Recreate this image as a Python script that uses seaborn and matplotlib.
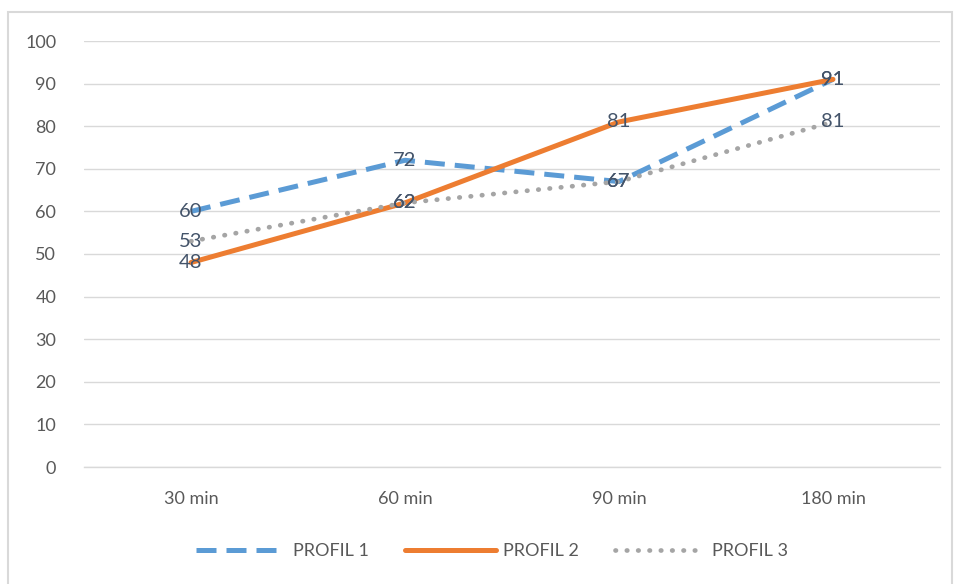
import pandas as pd
import numpy as np
import matplotlib
matplotlib.use("Agg")
import matplotlib.pyplot as plt
import seaborn as sns
from matplotlib.patches import Rectangle

categories = ["30 min", "60 min", "90 min", "180 min"]
profil_1 = [60, 72, 67, 91]
profil_2 = [48, 62, 81, 91]
profil_3 = [53, 62, 67, 81]
series_names = ["PROFIL 1", "PROFIL 2", "PROFIL 3"]

df = pd.DataFrame({
    "cat": list(range(len(categories))) * 3,
    "value": profil_1 + profil_2 + profil_3,
    "serie": [s for s in series_names for _ in categories],
})

sns.set_theme(style="white")
plt.rcParams["font.family"] = ["Lato", "DejaVu Sans"]

fig = plt.figure(figsize=(9.57, 5.84), dpi=100)
ax = fig.add_axes([84 / 957, 117 / 584, 856 / 957, 426 / 584])

# chart border
fig.patches.append(Rectangle((8 / 957, -0.01), 944 / 957, 572 / 584 + 0.01, transform=fig.transFigure,
                             fill=False, edgecolor="#D9D9D9", linewidth=1.5))

colors = {"PROFIL 1": "#5B9BD5", "PROFIL 2": "#ED7D31", "PROFIL 3": "#A5A5A5"}
styles = {"PROFIL 1": (0, (4.0, 2.0)), "PROFIL 2": "-", "PROFIL 3": (0, (0.1, 2.3))}
widths = {"PROFIL 1": 3.6, "PROFIL 2": 3.6, "PROFIL 3": 3.4}
caps = {"PROFIL 1": "butt", "PROFIL 2": "round", "PROFIL 3": "round"}
label_color = "#44546A"
tick_color = "#595959"

for name in series_names:
    sub = df[df["serie"] == name]
    sns.lineplot(data=sub, x="cat", y="value", ax=ax, color=colors[name],
                 linewidth=widths[name], label=name, zorder=3)
    ln = ax.lines[-1]
    ln.set_linestyle(styles[name])
    ln.set_dash_capstyle(caps[name])
    ln.set_solid_capstyle("round")
    for x, y in zip(sub["cat"], sub["value"]):
        ax.text(x, y, str(y), ha="center", va="center", fontsize=14.5,
                color=label_color, zorder=4)

ax.set_xlim(-0.5, 3.5)
ax.set_ylim(0, 100)
ax.set_yticks(np.arange(0, 101, 10))
ax.set_xticks(range(len(categories)))
ax.set_xticklabels(categories)
ax.set_xticks(np.arange(-0.5, 3.6, 1), minor=True)
ax.tick_params(axis="y", length=0, labelsize=13, labelcolor=tick_color, pad=20)
ax.tick_params(axis="x", which="major", length=0, labelsize=13, labelcolor=tick_color, pad=17)
ax.tick_params(axis="x", which="minor", length=6, color="#D9D9D9", width=1)
ax.grid(axis="y", color="#D9D9D9", linewidth=1)
ax.set_axisbelow(True)
for s in ["top", "right", "left"]:
    ax.spines[s].set_visible(False)
ax.spines["bottom"].set_color("#D9D9D9")
ax.spines["bottom"].set_linewidth(1)
ax.set_xlabel("")
ax.set_ylabel("")

leg = ax.legend(loc="center", ncol=3, frameon=False,
                fontsize=13, handlelength=5.0, columnspacing=2.0, handletextpad=0.4)
leg.set_bbox_to_anchor((492 / 957, 33 / 584), transform=fig.transFigure)
for t in leg.get_texts():
    t.set_color(tick_color)

fig.savefig("out.png", dpi=100)
